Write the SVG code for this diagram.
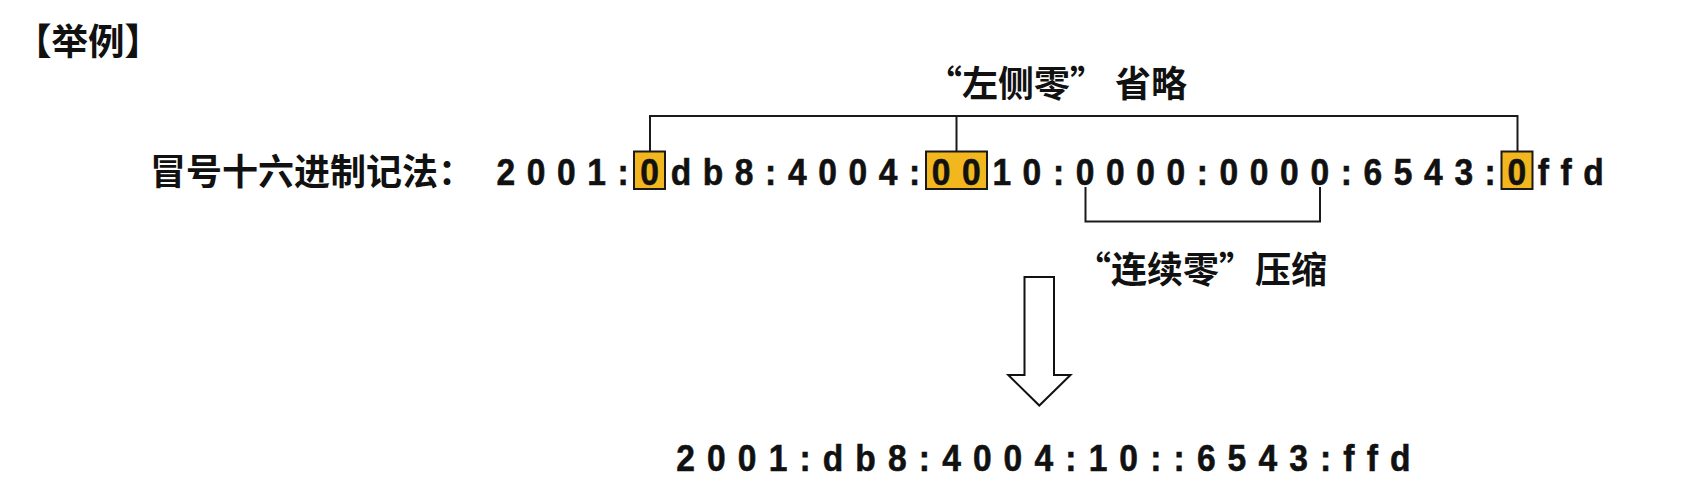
<svg xmlns="http://www.w3.org/2000/svg" width="1702" height="494" viewBox="0 0 1702 494">
<style>
.cjk{font-family:"Noto Sans CJK SC","Noto Sans CJK JP",sans-serif;font-weight:700;fill:#111}
.addr{font-family:"Liberation Sans",Arial,sans-serif;font-weight:700;font-size:37.7px;fill:#111;stroke:#111;stroke-width:0.6;text-anchor:middle}
.hl{fill:#F2B61E;stroke:#1a1a1a;stroke-width:2}
.conn{fill:none;stroke:#1a1a1a;stroke-width:2}
.arrow{fill:#fff;stroke:#111;stroke-width:2;stroke-linejoin:miter}
</style>
<rect width="1702" height="494" fill="#fff"/>
<g id="title"><text class="cjk" x="15" y="55" font-size="36.5">【举例】</text></g>
<g id="label-colon-hex"><text class="cjk" x="150" y="184.5" font-size="36">冒号十六进制记法：</text></g>
<g id="highlights">
<rect class="hl" x="634" y="151.5" width="31" height="37.5"/>
<rect class="hl" x="926" y="151.5" width="61" height="37.5"/>
<rect class="hl" x="1501.5" y="151.5" width="31" height="37.5"/>
</g>
<g id="address-full" transform="scale(0.891 1)"><text class="addr" y="185" x="567.7 601.7 635.7 669.6 699.4 729.2 764.2 800.2 835.2 865.0 894.8 928.7 962.7 996.8 1026.5 1056.3 1090.2 1124.3 1158.2 1188.0 1217.8 1251.8 1285.7 1319.8 1349.5 1379.3 1413.2 1447.2 1481.3 1511.0 1540.9 1574.7 1608.8 1642.8 1672.5 1702.4 1732.1 1757.7 1788.5">2001:0db8:4004:0010:0000:0000:6543:0ffd</text></g>
<g id="connectors">
<path class="conn" d="M650,151.5 V116 H1517.5 V151.5 M956.5,116 V151.5"/>
<path class="conn" d="M1085.5,187 V221.5 H1320 V187"/>
</g>
<g id="label-omit"><text class="cjk" x="926" y="97" font-size="36">“左侧零”<tspan dx="9">省略</tspan></text></g>
<g id="label-compress"><text class="cjk" x="1075" y="282.5" font-size="36">“连续零”压缩</text></g>
<g id="arrow"><polygon class="arrow" points="1024.5,277 1054,277 1054,375 1070.5,375 1039.3,405.5 1008.3,375 1024.5,375"/></g>
<g id="address-compressed" transform="scale(0.891 1)"><text class="addr" y="471" x="769.4 803.9 838.5 873.2 903.5 934.9 971.5 1007.1 1037.5 1067.9 1102.4 1136.9 1171.5 1201.9 1232.3 1266.8 1297.2 1323.4 1353.8 1388.3 1422.9 1457.5 1487.8 1514.0 1540.2 1571.5">2001:db8:4004:10::6543:ffd</text></g>
</svg>
